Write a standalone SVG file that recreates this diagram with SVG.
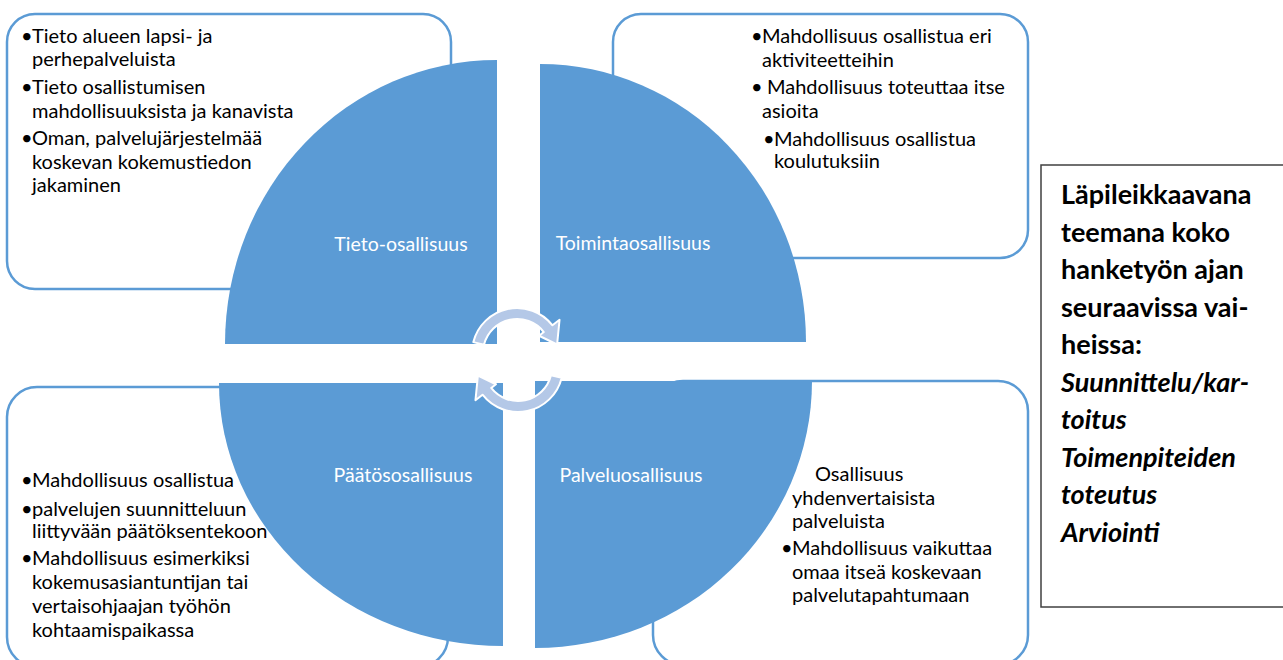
<svg xmlns="http://www.w3.org/2000/svg" width="1283" height="660" viewBox="0 0 1283 660">
<style>
.box{fill:#fff;stroke:#5B9BD5;stroke-width:2.5}
.quad{fill:#5B9BD5}
.t{font-family:Lato,"Open Sans","DejaVu Sans",sans-serif;font-size:20px;fill:#000}
.ql{font-family:Lato,"Open Sans","DejaVu Sans",sans-serif;font-size:19.5px;fill:#fff;text-anchor:middle}
.rb{font-family:Lato,"Open Sans","DejaVu Sans",sans-serif;font-size:27px;font-weight:bold;fill:#000}
.arrow{fill:#B4C8E7;stroke:#fff;stroke-width:2;stroke-linejoin:round}
</style>
<defs>
<path id="carrow" d="M-43.66,-10.89 A45,45 0 0 1 35.46,-27.70 L42.55,-33.25 L40.10,-8.52 L22.07,-17.24 L26.79,-20.93 A34,34 0 0 0 -32.99,-8.23 Z"/>
</defs>
<rect width="1283" height="660" fill="#fff"/>

<g id="box-tieto">
<rect class="box" x="7" y="14" width="444" height="275" rx="28" ry="28"/>
<text class="t"><tspan x="21" y="43">•</tspan><tspan x="32" y="43">Tieto alueen lapsi- ja</tspan><tspan x="32" y="66">perhepalveluista</tspan><tspan x="21" y="94">•</tspan><tspan x="32" y="94">Tieto osallistumisen</tspan><tspan x="32" y="118">mahdollisuuksista ja kanavista</tspan><tspan x="21" y="145">•</tspan><tspan x="32" y="145">Oman, palvelujärjestelmää</tspan><tspan x="32" y="169">koskevan kokemustiedon</tspan><tspan x="32" y="192">jakaminen</tspan></text>
</g>
<g id="box-toiminta">
<rect class="box" x="613" y="14" width="415" height="244" rx="28" ry="28"/>
<text class="t"><tspan x="751" y="43">•</tspan><tspan x="762" y="43">Mahdollisuus osallistua eri</tspan><tspan x="762" y="67">aktiviteetteihin</tspan><tspan x="751" y="94">•</tspan><tspan x="767" y="94">Mahdollisuus toteuttaa itse</tspan><tspan x="762" y="118">asioita</tspan><tspan x="763" y="146">•</tspan><tspan x="774" y="146">Mahdollisuus osallistua</tspan><tspan x="774" y="168">koulutuksiin</tspan></text>
</g>
<g id="box-paatos">
<rect class="box" x="7" y="387" width="441" height="280" rx="30" ry="30"/>
<text class="t"><tspan x="21" y="487">•</tspan><tspan x="32" y="487">Mahdollisuus osallistua</tspan><tspan x="21" y="516">•</tspan><tspan x="32" y="516">palvelujen suunnitteluun</tspan><tspan x="32" y="538">liittyvään päätöksentekoon</tspan><tspan x="21" y="565">•</tspan><tspan x="32" y="565">Mahdollisuus esimerkiksi</tspan><tspan x="32" y="589">kokemusasiantuntijan tai</tspan><tspan x="32" y="613">vertaisohjaajan työhön</tspan><tspan x="32" y="637">kohtaamispaikassa</tspan></text>
</g>
<g id="box-palvelu">
<rect class="box" x="653" y="381" width="375" height="284" rx="30" ry="30"/>
<text class="t"><tspan x="815" y="481">Osallisuus</tspan><tspan x="792" y="505">yhdenvertaisista</tspan><tspan x="792" y="528">palveluista</tspan><tspan x="781" y="555">•</tspan><tspan x="792" y="555">Mahdollisuus vaikuttaa</tspan><tspan x="792" y="579">omaa itseä koskevaan</tspan><tspan x="792" y="602">palvelutapahtumaan</tspan></text>
</g>

<g id="q-tieto">
<path class="quad" d="M497,344 L225,344 A272,284 0 0 1 497,60 Z"/>
<text class="ql" x="401" y="251">Tieto-osallisuus</text>
</g>
<g id="q-toiminta">
<path class="quad" d="M540,342 L540,64 A266,278 0 0 1 806,342 Z"/>
<text class="ql" x="633" y="250">Toimintaosallisuus</text>
</g>
<g id="q-paatos">
<path class="quad" d="M503,383 L219,383 A284,263 0 0 0 503,646 Z"/>
<text class="ql" x="403" y="482">Päätösosallisuus</text>
</g>
<g id="q-palvelu">
<path class="quad" d="M535,381 L812,381 A277,267 0 0 1 535,648 Z"/>
<text class="ql" x="631" y="482">Palveluosallisuus</text>
</g>

<g id="connectors">
<use href="#carrow" class="arrow" transform="translate(517,353)"/>
<use href="#carrow" class="arrow" transform="translate(518,367) rotate(180)"/>
</g>

<g id="side-note">
<rect x="1041" y="165" width="250" height="442" fill="#fff" stroke="#404040" stroke-width="1.5"/>
<text class="rb"><tspan x="1061" y="204">Läpileikkaavana</tspan><tspan x="1061" y="241.5">teemana koko</tspan><tspan x="1061" y="279">hanketyön ajan</tspan><tspan x="1061" y="316.5">seuraavissa vai-</tspan><tspan x="1061" y="354">heissa:</tspan><tspan x="1061" y="391.5" font-style="italic">Suunnittelu/kar-</tspan><tspan x="1061" y="429" font-style="italic">toitus</tspan><tspan x="1061" y="466.5" font-style="italic">Toimenpiteiden</tspan><tspan x="1061" y="504" font-style="italic">toteutus</tspan><tspan x="1061" y="541.5" font-style="italic">Arviointi</tspan></text>
</g>
</svg>
